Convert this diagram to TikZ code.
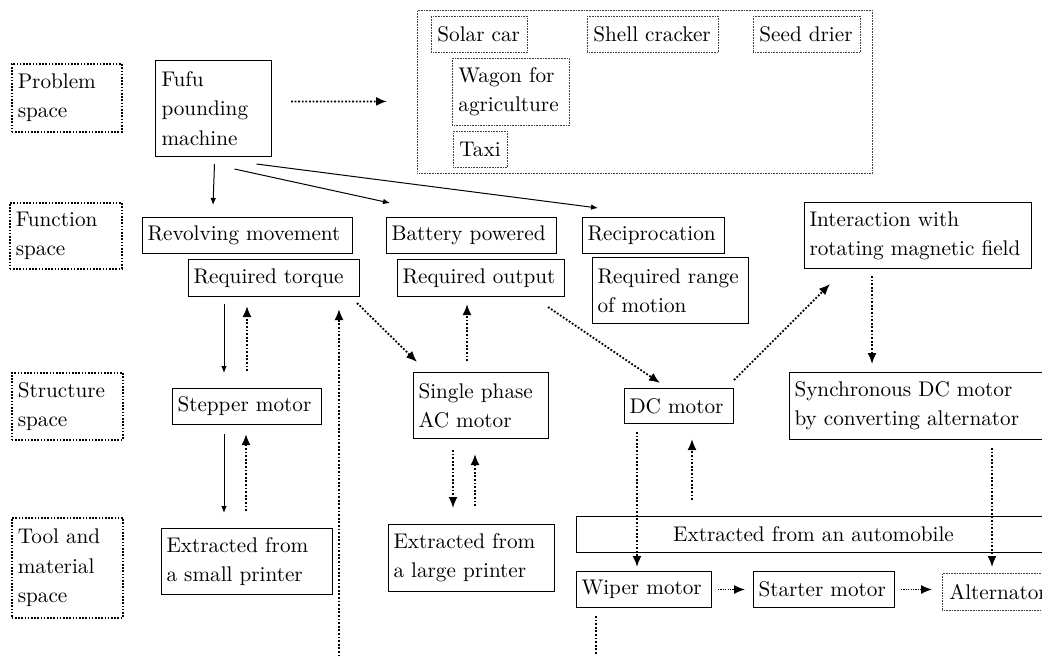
\documentclass[tikz,border=0pt]{standalone}
\usepackage{fontspec}
\usetikzlibrary{arrows.meta,calc}
\newcommand\myfs{\fontsize{10.6pt}{14.6pt}\selectfont}
\tikzset{
 base/.style={anchor=north west, inner ysep=0pt, inner xsep=2.5pt, align=left, font=\myfs},
 box/.style={base, draw, line width=0.5pt},
 lbl/.style={base, draw, line width=0.8pt, dash pattern=on 0.8pt off 0.8pt, inner xsep=3pt},
 app/.style={base, draw=black!75, line width=0.4pt, dash pattern=on 0.4pt off 0.4pt, inner xsep=3pt},
 sarr/.style={-{Latex[length=3.5pt,width=2.8pt]}, line width=0.5pt},
 darr/.style={-{Latex[length=5.5pt,width=4.5pt]}, line width=0.9pt, dash pattern=on 0.9pt off 0.9pt},
 dline/.style={line width=0.9pt, dash pattern=on 0.9pt off 0.9pt},
}
\begin{document}
\begin{tikzpicture}[x=0.5pt,y=-0.5pt]
\useasboundingbox (0,0) rectangle (1042,655);
\clip (0,0) rectangle (1042,655);
% space labels
\node[lbl, text width=49pt, minimum height=34pt] (lp) at (11,63) {Problem\\space};
\node[lbl, text width=50pt, minimum height=33pt] (lf) at (9,202) {Function\\space};
\node[lbl, text width=49.5pt, minimum height=33.5pt] (ls) at (11,372) {Structure\\space};
\node[lbl, text width=49.5pt, minimum height=50pt] (lt) at (11,517) {Tool and\\material\\space};
% problem space
\node[box, text width=52pt, minimum height=48pt, inner xsep=3pt] (fufu) at (155,60) {Fufu\\pounding\\machine};
\node[base, draw=black!75, line width=0.4pt, dash pattern=on 0.4pt off 0.4pt, inner sep=0pt, minimum width=227.5pt, minimum height=81.5pt] (apps) at (417,10) {};
\node[app, text width=42pt, minimum height=18pt] (solar) at (431,16) {Solar car};
\node[app, text width=59.5pt, minimum height=18pt] (shell) at (587,16) {Shell cracker};
\node[app, text width=47.5pt, minimum height=18pt] (seed) at (753,16) {Seed drier};
\node[app, text width=52.5pt, minimum height=33.5pt] (wagon) at (452,58) {Wagon for\\agriculture};
\node[app, text width=21pt, minimum height=18pt] (taxi) at (453,131) {Taxi};
% function space
\node[box, text width=100pt, minimum height=18pt] (rev) at (142,217) {Revolving movement};
\node[box, text width=80.5pt, minimum height=18.5pt] (torque) at (188,259) {Required torque};
\node[box, text width=80pt, minimum height=18pt] (batt) at (386,217) {Battery powered};
\node[box, text width=78.5pt, minimum height=18.5pt] (output) at (397,259) {Required output};
\node[box, text width=66pt, minimum height=18pt] (recip) at (582,217) {Reciprocation};
\node[box, text width=73pt, minimum height=33pt] (range) at (592,257) {Required range\\of motion};
\node[box, text width=108.5pt, minimum height=33pt] (inter) at (804,202) {Interaction with\\rotating magnetic field};
% structure space
\node[box, text width=69.5pt, minimum height=18pt] (stepper) at (172,388) {Stepper motor};
\node[box, text width=62.5pt, minimum height=33pt] (single) at (413,372) {Single phase\\AC motor};
\node[box, text width=49.5pt, minimum height=17.5pt] (dc) at (624,388) {DC motor};
\node[box, text width=126pt, minimum height=33.5pt] (sync) at (789,372) {Synchronous DC motor\\by converting alternator};
% tool and material space
\node[box, text width=80.5pt, minimum height=33pt] (small) at (161,528) {Extracted from\\a small printer};
\node[box, text width=78pt, minimum height=33.5pt] (large) at (388,524) {Extracted from\\a large printer};
\node[box, text width=232pt, minimum height=18pt, align=center] (auto) at (576,516) {Extracted from an automobile};
\node[box, text width=62.5pt, minimum height=18pt] (wiper) at (576,571) {Wiper motor};
\node[box, text width=65.5pt, minimum height=18pt] (starter) at (753,571) {Starter motor};
\node[app, text width=54pt, minimum height=18.5pt, inner xsep=3.5pt] (alt) at (942,573) {Alternator};
% free ends
\coordinate (bot1) at (339,660);
\coordinate (bot2) at (596,660);
% connectors
\draw[darr] ($(fufu.east)+(19,-7)$) -- ($(apps.west)+(-30,9.5)$);
\draw[sarr] ($(fufu.south)+(1,7)$) -- ($(rev.north west)+(71,-12)$);
\draw[sarr] ($(fufu.south)+(21,12)$) -- ($(batt.north west)+(4,-14)$);
\draw[sarr] ($(fufu.south)+(43,7)$) -- ($(recip.north west)+(16,-9)$);
\draw[sarr] ($(torque.south west)+(36,7)$) -- ($(stepper.north west)+(52,-15)$);
\draw[darr] ($(stepper.north west)+(75,-17)$) -- ($(torque.south west)+(59,9)$);
\draw[sarr] ($(stepper.south west)+(52,9)$) -- ($(small.north west)+(63,-15)$);
\draw[darr] ($(small.north west)+(85,-17)$) -- ($(stepper.south west)+(74,9)$);
\draw[darr] (bot1) -- ($(torque.south west)+(151,12)$);
\draw[darr] ($(torque.south east)+(-3,6)$) -- ($(single.north west)+(4,-10)$);
\draw[darr] ($(single.north west)+(54,-11)$) -- ($(output.south west)+(70,7)$);
\draw[darr] ($(output.south east)+(-17,10)$) -- ($(dc.north west)+(36,-5)$);
\draw[darr] ($(dc.north east)+(0,-8)$) -- ($(inter.south west)+(26,15)$);
\draw[darr] ($(inter.south west)+(68,7)$) -- ($(sync.north west)+(83,-8)$);
\draw[darr] ($(single.south west)+(40,11)$) -- ($(large.north west)+(65,-16)$);
\draw[darr] ($(large.north west)+(87,-18)$) -- ($(single.south west)+(62,15)$);
\draw[darr] ($(dc.south west)+(13,8)$) -- ($(wiper.north west)+(61,-4)$);
\draw[darr] ($(auto.north west)+(116,-16)$) -- ($(dc.south west)+(68,15)$);
\draw[darr] ($(sync.south west)+(203,8)$) -- ($(alt.north west)+(50,-6)$);
\draw[darr, line width=0.6pt, dash pattern=on 0.6pt off 0.6pt, shorten <=3pt, shorten >=4pt] (wiper.east) -- (starter.west);
\draw[darr, line width=0.6pt, dash pattern=on 0.6pt off 0.6pt, shorten <=3pt, shorten >=5pt] (starter.east) -- (alt.west|-starter.east);
\draw[dline] ($(wiper.south west)+(20,8)$) -- (bot2);
\end{tikzpicture}
\end{document}
